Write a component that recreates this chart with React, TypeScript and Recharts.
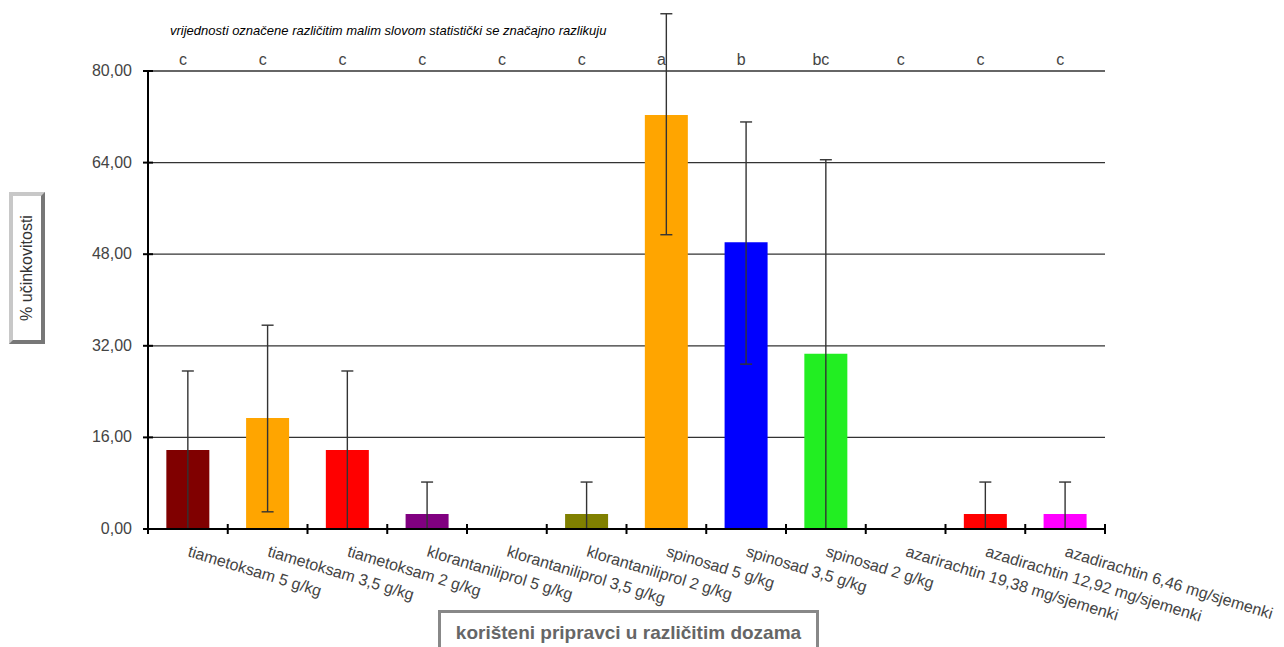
import { BarChart, Bar, XAxis, YAxis, CartesianGrid, ErrorBar, Cell } from 'recharts'

const categories = [
  'tiametoksam 5 g/kg',
  'tiametoksam 3,5 g/kg',
  'tiametoksam 2 g/kg',
  'klorantaniliprol 5 g/kg',
  'klorantaniliprol 3,5 g/kg',
  'klorantaniliprol 2 g/kg',
  'spinosad 5 g/kg',
  'spinosad 3,5 g/kg',
  'spinosad 2 g/kg',
  'azarirachtin 19,38 mg/sjemenki',
  'azadirachtin 12,92 mg/sjemenki',
  'azadirachtin 6,46 mg/sjemenki',
]
const values = [13.8, 19.4, 13.8, 2.6, 0, 2.6, 72.3, 50.1, 30.6, 0, 2.6, 2.6]
const errLow = [13.8, 16.4, 13.8, 2.6, 0, 2.6, 20.9, 21.3, 30.6, 0, 2.6, 2.6]
const errHigh = [13.8, 16.2, 13.8, 5.6, 0, 5.6, 17.7, 21.0, 33.9, 0, 5.6, 5.6]
const letters = ['c', 'c', 'c', 'c', 'c', 'c', 'a', 'b', 'bc', 'c', 'c', 'c']
const colors = [
  '#800000', '#FFA500', '#FF0000', '#800080', '#808080', '#808000',
  '#FFA500', '#0000FF', '#22EE22', '#808080', '#FF0000', '#FF00FF',
]
const yTicks = [0, 16, 32, 48, 64, 80]

const data = categories.map((name, i) => ({
  name,
  value: values[i],
  err: [errLow[i], errHigh[i]],
}))

const FONT = '"Liberation Sans", Arial, sans-serif'

function CategoryTick(props: any) {
  const { x, y, payload, index } = props
  const half = payload?.offset ?? 957 / 24
  const last = index === categories.length - 1
  return (
    <g>
      <line x1={x - half} y1={y - 5} x2={x - half} y2={y + 5} stroke="#000" strokeWidth={2} />
      {last && <line x1={x + half} y1={y - 5} x2={x + half} y2={y + 5} stroke="#000" strokeWidth={2} />}
      <text
        x={x - 1}
        y={y + 27}
        transform={`rotate(17, ${x - 1}, ${y + 27})`}
        textAnchor="start"
        fontSize={16}
        fontFamily={FONT}
        fill="#444"
      >
        {payload.value}
      </text>
    </g>
  )
}

function LetterTick(props: any) {
  const { x, y, index } = props
  return (
    <text x={x - 5} y={y - 6} textAnchor="middle" fontSize={16} fontFamily={FONT} fill="#444">
      {letters[index]}
    </text>
  )
}

function ValueTick(props: any) {
  const { x, y, payload } = props
  return (
    <g>
      <line x1={x - 5} y1={y} x2={x + 5} y2={y} stroke="#000" strokeWidth={2} />
      <text x={x - 16} y={y + 5} textAnchor="end" fontSize={16} fontFamily={FONT} fill="#444">
        {Number(payload.value).toFixed(2).replace('.', ',')}
      </text>
    </g>
  )
}

export default function App() {
  return (
    <div style={{ position: 'absolute', left: 0, top: 0, width: 1284, height: 647, background: '#fff', overflow: 'hidden' }}>
      <BarChart
        width={1284}
        height={647}
        data={data}
        margin={{ top: 51, right: 179, left: 88, bottom: 88 }}
        barCategoryGap="23%"
      >
        <CartesianGrid horizontal vertical={false} stroke="#333" strokeWidth={1.3} />
        <XAxis
          dataKey="name"
          interval={0}
          height={30}
          axisLine={{ stroke: '#000', strokeWidth: 2 }}
          tickLine={false}
          tickSize={0}
          tickMargin={0}
          tick={<CategoryTick />}
        />
        <XAxis
          xAxisId="top"
          orientation="top"
          dataKey="name"
          interval={0}
          height={20}
          axisLine={false}
          tickLine={false}
          tickSize={0}
          tickMargin={0}
          tick={<LetterTick />}
        />
        <YAxis
          domain={[0, 80]}
          ticks={yTicks}
          allowDataOverflow
          width={60}
          axisLine={{ stroke: '#000', strokeWidth: 2 }}
          tickLine={false}
          tickSize={0}
          tickMargin={0}
          tick={<ValueTick />}
        />
        <Bar dataKey="value" isAnimationActive={false}>
          {data.map((d, i) => (
            <Cell key={d.name} fill={colors[i]} />
          ))}
          <ErrorBar dataKey="err" width={6} stroke="#333" strokeWidth={1.4} isAnimationActive={false} />
        </Bar>
      </BarChart>
      <div
        style={{
          position: 'absolute', left: 170, top: 23, fontFamily: FONT, fontSize: 13,
          fontStyle: 'italic', color: '#000', whiteSpace: 'nowrap',
        }}
      >
        vrijednosti označene različitim malim slovom statistički se značajno razlikuju
      </div>
      <div
        style={{
          position: 'absolute', left: 9, top: 192, width: 28, height: 144,
          borderTop: '4px solid #c8c8c8', borderLeft: '4px solid #c8c8c8',
          borderRight: '4px solid #777', borderBottom: '4px solid #777',
          background: '#fff', display: 'flex', alignItems: 'center', justifyContent: 'center',
        }}
      >
        <div style={{ transform: 'rotate(-90deg)', whiteSpace: 'nowrap', fontFamily: FONT, fontSize: 16, color: '#333' }}>
          % učinkovitosti
        </div>
      </div>
      <div
        style={{
          position: 'absolute', left: 438, top: 610, width: 381, height: 50,
          border: '3px solid #888', background: '#fff', boxSizing: 'border-box',
          fontFamily: FONT, fontSize: 19, fontWeight: 'bold', color: '#666',
          textAlign: 'center', paddingTop: 9,
        }}
      >
        korišteni pripravci u različitim dozama
      </div>
    </div>
  )
}
